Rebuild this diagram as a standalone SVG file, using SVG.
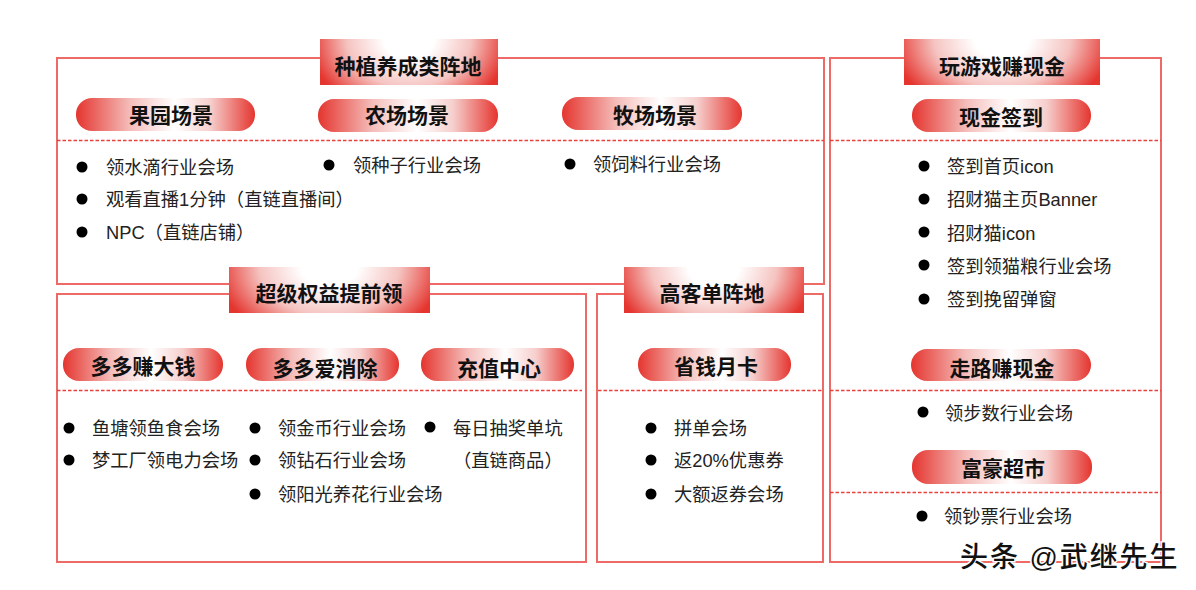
<svg xmlns="http://www.w3.org/2000/svg" width="1196" height="590" viewBox="0 0 1196 590">
<style>
text{font-family:"Liberation Sans","Noto Sans CJK SC",sans-serif;fill:#111}
.box{fill:none;stroke:#ee6a66;stroke-width:2}
.dash{fill:none;stroke:#e8403c;stroke-width:1.5;stroke-dasharray:3.5 2}
.h{fill:url(#hg)}
.p{fill:url(#pg)}
.ht{font-size:21px;font-weight:700;text-anchor:middle}
.pt{font-size:21px;font-weight:700;text-anchor:middle}
.t{font-size:18.3px;fill:#222}
.d{fill:#000}
</style>
<defs>
<radialGradient id="hg" cx="0" cy="0" r="1" gradientTransform="translate(0.5 0) scale(0.56 1.7)">
<stop offset="0" stop-color="#fff"/><stop offset="0.25" stop-color="#fff"/><stop offset="0.62" stop-color="#f5c4c1"/><stop offset="1" stop-color="#e5352f"/>
</radialGradient>
<linearGradient id="pg" x1="0" x2="1" y1="0" y2="0">
<stop offset="0" stop-color="#e5352f"/><stop offset="0.3" stop-color="#f4bcb9"/><stop offset="0.55" stop-color="#fff"/><stop offset="0.75" stop-color="#f6cfcd"/><stop offset="1" stop-color="#e5352f"/>
</linearGradient>
</defs>
<g id="connectors">
<rect class="box" x="57" y="58" width="767" height="226"/>
<rect class="box" x="57" y="294" width="529" height="268"/>
<rect class="box" x="597" y="294" width="226" height="268"/>
<rect class="box" x="830" y="58" width="331" height="504"/>
<path class="dash" d="M57 140.500H824M830 140.500H1161M57 390.500H582M598 390.500H823M830 390.500H1161M830 492.500H1161"/>
</g>
<g id="h1"><rect class="h" x="320" y="39" width="178" height="46"/><text class="ht" x="408" y="74">种植养成类阵地</text></g>
<g id="h2"><rect class="h" x="904" y="39" width="196" height="46"/><text class="ht" x="1002" y="74">玩游戏赚现金</text></g>
<g id="h3"><rect class="h" x="229" y="267" width="201" height="46"/><text class="ht" x="329" y="301">超级权益提前领</text></g>
<g id="h4"><rect class="h" x="624" y="267" width="180" height="46"/><text class="ht" x="712" y="301">高客单阵地</text></g>
<g id="p1"><rect class="p" x="76" y="98" width="179" height="33" rx="16"/><text class="pt" x="171" y="123">果园场景</text></g>
<g id="p2"><rect class="p" x="318" y="99" width="180" height="33" rx="16"/><text class="pt" x="407" y="123">农场场景</text></g>
<g id="p3"><rect class="p" x="562" y="97" width="180" height="33" rx="16"/><text class="pt" x="655" y="123">牧场场景</text></g>
<g id="p4"><rect class="p" x="912" y="99" width="179" height="33" rx="16"/><text class="pt" x="1001" y="125">现金签到</text></g>
<g id="p5"><rect class="p" x="63" y="348" width="160" height="33" rx="16"/><text class="pt" x="143" y="374">多多赚大钱</text></g>
<g id="p6"><rect class="p" x="246" y="348" width="153" height="33" rx="16"/><text class="pt" x="325" y="376">多多爱消除</text></g>
<g id="p7"><rect class="p" x="421" y="348" width="153" height="33" rx="16"/><text class="pt" x="499" y="376">充值中心</text></g>
<g id="p8"><rect class="p" x="638" y="348" width="153" height="33" rx="16"/><text class="pt" x="716" y="374">省钱月卡</text></g>
<g id="p9"><rect class="p" x="911" y="349" width="180" height="32" rx="16"/><text class="pt" x="1002" y="376">走路赚现金</text></g>
<g id="p10"><rect class="p" x="912" y="450" width="180" height="34" rx="16"/><text class="pt" x="1003" y="476">富豪超市</text></g>
<g id="l1">
<circle class="d" cx="82" cy="167" r="5.500"/><text class="t" x="106" y="174">领水滴行业会场</text>
<circle class="d" cx="82" cy="199" r="5.500"/><text class="t" x="106" y="206">观看直播1分钟（直链直播间）</text>
<circle class="d" cx="82" cy="232" r="5.500"/><text class="t" x="106" y="239">NPC（直链店铺）</text>
</g>
<g id="l2"><circle class="d" cx="329" cy="165" r="5.500"/><text class="t" x="353" y="172">领种子行业会场</text></g>
<g id="l3"><circle class="d" cx="570" cy="164" r="5.500"/><text class="t" x="593" y="171">领饲料行业会场</text></g>
<g id="l4">
<circle class="d" cx="924" cy="166" r="5.500"/><text class="t" x="947" y="173">签到首页icon</text>
<circle class="d" cx="924" cy="199" r="5.500"/><text class="t" x="947" y="206">招财猫主页Banner</text>
<circle class="d" cx="924" cy="232" r="5.500"/><text class="t" x="947" y="240">招财猫icon</text>
<circle class="d" cx="924" cy="265" r="5.500"/><text class="t" x="947" y="273">签到领猫粮行业会场</text>
<circle class="d" cx="924" cy="299" r="5.500"/><text class="t" x="947" y="306">签到挽留弹窗</text>
</g>
<g id="l5">
<circle class="d" cx="69" cy="428" r="5.500"/><text class="t" x="92" y="435">鱼塘领鱼食会场</text>
<circle class="d" cx="69" cy="460" r="5.500"/><text class="t" x="92" y="467">梦工厂领电力会场</text>
</g>
<g id="l6">
<circle class="d" cx="255" cy="428" r="5.500"/><text class="t" x="278" y="435">领金币行业会场</text>
<circle class="d" cx="255" cy="460" r="5.500"/><text class="t" x="278" y="467">领钻石行业会场</text>
<circle class="d" cx="255" cy="494" r="5.500"/><text class="t" x="278" y="501">领阳光养花行业会场</text>
</g>
<g id="l7">
<circle class="d" cx="430" cy="427" r="5.500"/><text class="t" x="453" y="435">每日抽奖单坑</text>
<text class="t" x="453" y="467">（直链商品）</text>
</g>
<g id="l8">
<circle class="d" cx="651" cy="428" r="5.500"/><text class="t" x="674" y="435">拼单会场</text>
<circle class="d" cx="651" cy="460" r="5.500"/><text class="t" x="674" y="467">返20%优惠券</text>
<circle class="d" cx="651" cy="494" r="5.500"/><text class="t" x="674" y="501">大额返券会场</text>
</g>
<g id="l9"><circle class="d" cx="923" cy="412" r="5.500"/><text class="t" x="945" y="420">领步数行业会场</text></g>
<g id="l10"><circle class="d" cx="922" cy="516" r="5.500"/><text class="t" x="944" y="523">领钞票行业会场</text></g>
<text id="wm" x="960" y="567" style="font-size:28px;letter-spacing:1.9px;font-weight:500;paint-order:stroke;stroke:#fff;stroke-width:3px;fill:#111">头条 @武继先生</text>
</svg>
